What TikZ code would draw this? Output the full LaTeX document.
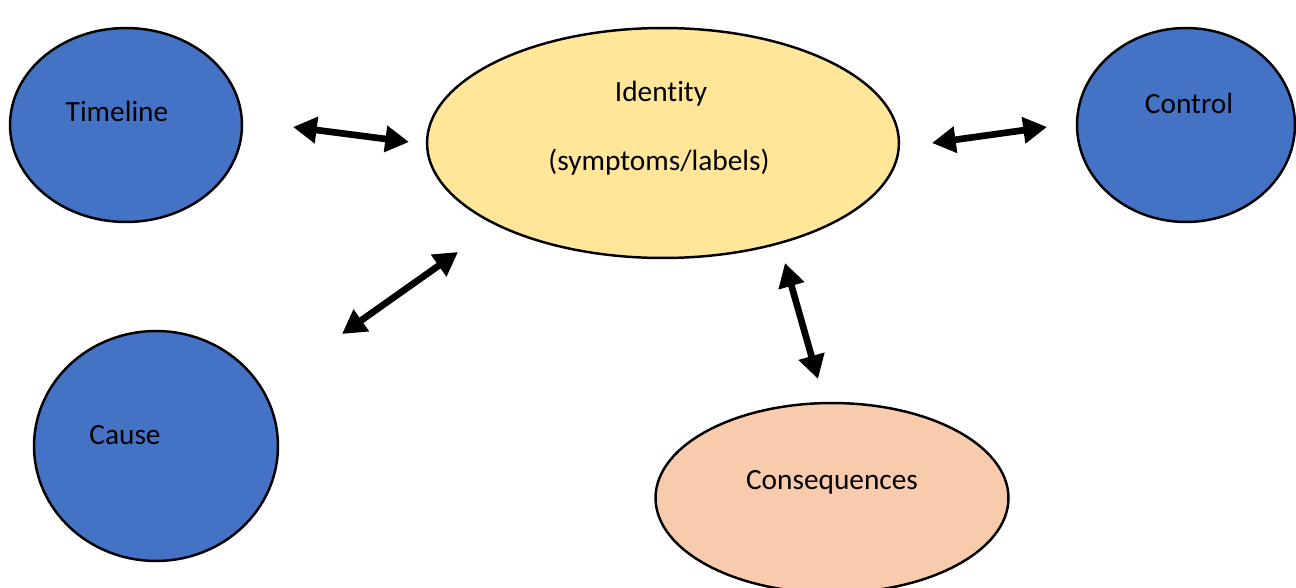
\documentclass[tikz,border=0pt]{standalone}
\usepackage{fontspec}
\setmainfont{Carlito}[RawFeature={-liga;-clig;-calt;-dlig}]
\usetikzlibrary{shapes.geometric,arrows.meta}
\definecolor{blobblue}{HTML}{4472C4}
\definecolor{idyellow}{HTML}{FFE699}
\definecolor{conpeach}{HTML}{F8CBAD}
\begin{document}
\begin{tikzpicture}[x=0.02cm,y=-0.02cm,
  blob/.style={ellipse,draw=black,line width=1.4pt,inner sep=0pt},
  lbl/.style={font=\fontsize{16.7pt}{20pt}\selectfont,inner sep=0pt,text=black},
  link/.style={line width=3.8pt,{Triangle[length=13.5pt,width=14.5pt]}-{Triangle[length=13.5pt,width=14.5pt]}}]
\useasboundingbox (0,0) rectangle (1296,588);
\clip (0,0) rectangle (1296,588);

% the five concept ellipses
\node[blob,fill=blobblue,minimum width=4.64cm,minimum height=3.88cm] (timeline) at (126,125) {};
\node[blob,fill=idyellow,minimum width=9.44cm,minimum height=4.6cm] (identity) at (663,143) {};
\node[blob,fill=blobblue,minimum width=4.36cm,minimum height=3.88cm] (control) at (1186,125) {};
\node[blob,fill=blobblue,minimum width=4.88cm,minimum height=4.6cm] (cause) at (156,446) {};
\node[blob,fill=conpeach,minimum width=7.06cm,minimum height=3.8cm] (consequences) at (832,498) {};

% labels (the kern keeps "t" and "i" as separate glyphs)
\node[lbl] (tTimeline) at (117,111) {Timeline};
\node[lbl] (tIdentity) at (661,94) {Ident\kern0pt ity};
\node[lbl] (tSymptoms) at (659,162) {(symptoms/labels)};
\node[lbl] (tControl) at (1189,103) {Control};
\node[lbl] (tCause) at (125,435) {Cause};
\node[lbl] (tConsequences) at (832,482) {Consequences};

% free-standing two-way arrows
\coordinate (a1s) at (293,127);
\coordinate (a1e) at (409,142);
\coordinate (a2s) at (932,143);
\coordinate (a2e) at (1047,127);
\coordinate (a3s) at (342,334);
\coordinate (a3e) at (458,252);
\coordinate (a4s) at (785,263);
\coordinate (a4e) at (818,379);
\draw[link] (a1s) -- (a1e);
\draw[link] (a2s) -- (a2e);
\draw[link] (a3s) -- (a3e);
\draw[link] (a4s) -- (a4e);
\end{tikzpicture}
\end{document}
